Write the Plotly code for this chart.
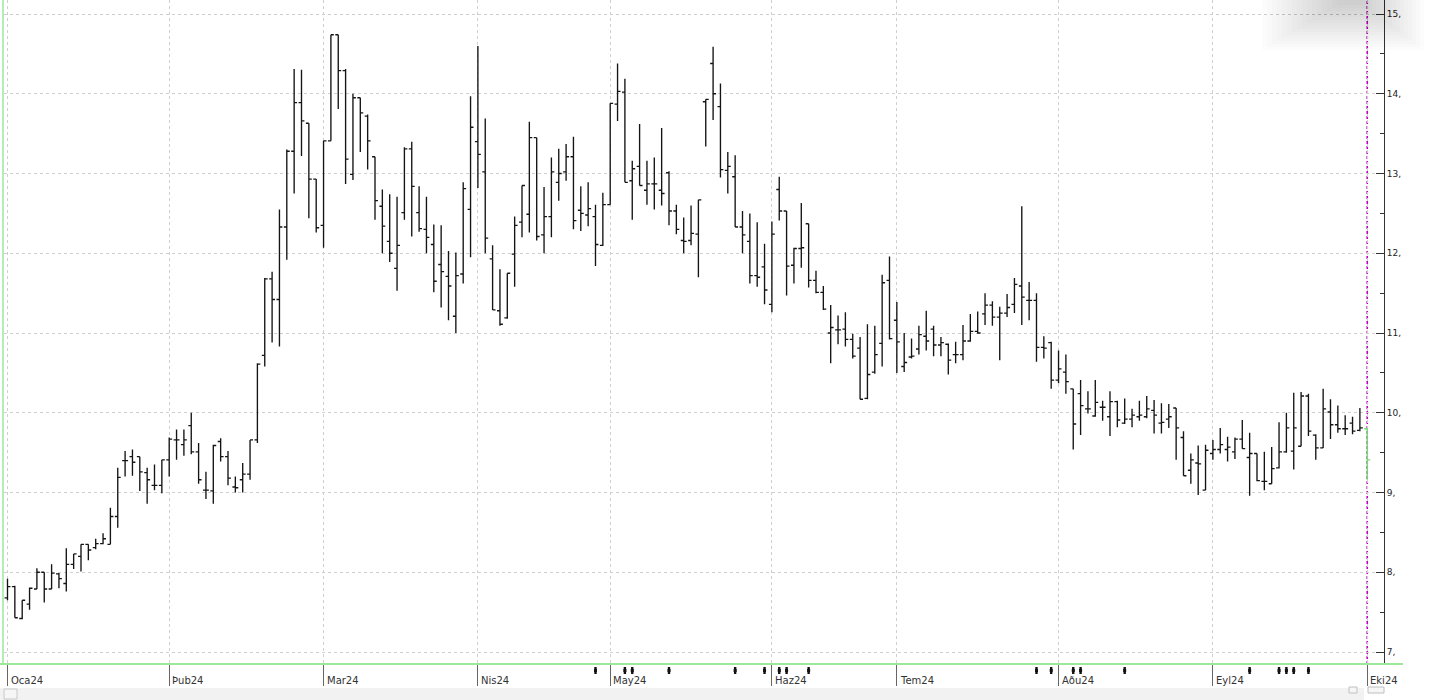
import pandas as pd
import plotly.graph_objects as go

# ---------------- data ----------------
opens = [7.68, 7.82, 7.42, 7.60, 7.79, 8.00, 7.79, 7.98, 7.86, 8.10,
         8.20, 8.35, 8.31, 8.36, 8.35, 8.70, 9.40, 9.45, 9.45, 9.25,
         9.09, 9.09, 9.41, 9.66, 9.60, 9.84, 9.51, 9.03, 9.02, 9.64,
         9.45, 9.07, 9.16, 9.23, 9.66, 10.72, 11.68, 11.42, 12.33, 13.28,
         13.89, 13.63, 12.93, 12.35, 13.41, 14.74, 14.29, 12.99, 13.95, 13.72,
         13.21, 12.59, 12.15, 11.81, 12.51, 13.31, 12.51, 12.30, 12.11, 11.86,
         11.71, 11.21, 11.74, 12.55, 13.40, 13.02, 11.93, 11.28, 11.19, 11.99,
         12.39, 12.49, 13.45, 12.23, 12.46, 12.89, 13.02, 13.21, 12.54, 12.48,
         12.46, 12.10, 12.61, 13.87, 14.02, 12.91, 13.09, 12.79, 12.87, 12.79,
         13.01, 12.53, 12.16, 12.16, 12.24, 13.90, 14.38, 13.84, 13.04, 12.96,
         12.33, 12.15, 11.72, 11.83, 11.36, 12.80, 12.53, 11.85, 12.06, 12.37,
         11.66, 11.51, 11.00, 11.04, 11.05, 10.92, 10.81, 10.18, 10.51, 10.87,
         11.66, 11.16, 10.58, 10.70, 10.80, 10.96, 11.05, 10.85, 10.86, 10.73,
         10.73, 10.90, 11.02, 11.24, 11.35, 11.20, 11.25, 11.36, 11.59, 11.41,
         11.41, 10.82, 10.88, 10.41, 10.51, 10.30, 10.24, 10.05, 9.96, 10.07,
         9.95, 10.14, 9.87, 9.92, 9.95, 9.95, 10.03, 9.87, 9.92, 10.06,
         9.69, 9.28, 9.37, 9.03, 9.49, 9.54, 9.54, 9.51, 9.67, 9.44,
         9.49, 9.14, 9.11, 9.31, 9.51, 9.52, 9.58, 10.21, 9.72, 9.56,
         10.01, 9.85, 9.80, 9.87, 9.78, 9.80]
highs = [7.92, 7.83, 7.65, 7.81, 8.05, 8.00, 8.10, 7.99, 8.30, 8.23,
         8.35, 8.35, 8.42, 8.49, 8.81, 9.31, 9.52, 9.54, 9.45, 9.31,
         9.35, 9.41, 9.69, 9.79, 9.79, 10.00, 9.62, 9.26, 9.60, 9.68,
         9.52, 9.20, 9.37, 9.66, 10.62, 11.69, 11.77, 12.55, 13.30, 14.31,
         14.30, 13.63, 12.93, 13.41, 14.74, 14.74, 14.31, 14.00, 13.95, 13.74,
         13.21, 12.80, 12.74, 12.71, 13.33, 13.40, 12.84, 12.71, 12.36, 12.35,
         12.03, 12.01, 12.89, 13.97, 14.60, 13.69, 12.10, 11.80, 11.75, 12.46,
         12.85, 13.65, 13.45, 12.83, 13.20, 13.31, 13.37, 13.46, 12.84, 12.89,
         12.61, 12.76, 13.88, 14.38, 14.19, 13.16, 13.62, 13.16, 13.20, 13.57,
         13.03, 12.61, 12.45, 12.60, 12.67, 13.93, 14.59, 14.13, 13.27, 13.23,
         12.53, 12.50, 12.39, 12.12, 12.40, 12.96, 12.53, 12.07, 12.63, 12.37,
         11.78, 11.59, 11.35, 11.22, 11.26, 10.99, 10.95, 11.11, 11.09, 11.73,
         11.96, 11.39, 11.00, 10.93, 11.09, 11.28, 11.09, 10.95, 10.87, 10.89,
         11.10, 11.24, 11.27, 11.50, 11.40, 11.33, 11.49, 11.69, 12.59, 11.64,
         11.50, 10.96, 10.89, 10.78, 10.73, 10.30, 10.41, 10.27, 10.41, 10.15,
         10.27, 10.15, 10.18, 10.05, 10.15, 10.21, 10.16, 10.12, 10.11, 10.06,
         9.77, 9.49, 9.59, 9.60, 9.66, 9.81, 9.70, 9.69, 9.91, 9.75,
         9.49, 9.51, 9.57, 9.88, 10.00, 10.25, 10.26, 10.24, 9.73, 10.30,
         10.17, 10.09, 9.97, 9.95, 10.06, 9.81]
lows = [7.65, 7.43, 7.41, 7.53, 7.79, 7.62, 7.79, 7.80, 7.76, 8.04,
        8.01, 8.15, 8.29, 8.35, 8.35, 8.56, 9.20, 9.21, 9.02, 8.86,
        9.03, 8.99, 9.20, 9.41, 9.46, 9.48, 9.11, 8.92, 8.86, 9.39,
        9.09, 9.00, 9.00, 9.16, 9.62, 10.58, 10.88, 10.83, 11.92, 12.75,
        13.22, 12.44, 12.26, 12.07, 13.41, 13.81, 12.87, 12.92, 13.27, 13.05,
        12.42, 12.00, 11.89, 11.53, 12.42, 12.21, 12.27, 12.00, 11.51, 11.32,
        11.16, 11.00, 11.62, 11.95, 12.82, 12.00, 11.29, 11.09, 11.18, 11.58,
        12.20, 12.26, 12.16, 12.00, 12.20, 12.66, 12.91, 12.30, 12.28, 12.34,
        11.84, 12.09, 12.61, 13.66, 12.89, 12.42, 12.85, 12.61, 12.55, 12.60,
        12.35, 12.24, 12.00, 12.10, 11.70, 13.34, 13.67, 12.95, 12.75, 12.33,
        12.00, 11.62, 11.58, 11.36, 11.26, 12.41, 11.47, 11.62, 11.82, 11.57,
        11.50, 11.29, 10.62, 10.86, 10.83, 10.68, 10.17, 10.17, 10.49, 10.58,
        10.92, 10.50, 10.51, 10.68, 10.73, 10.78, 10.71, 10.71, 10.48, 10.62,
        10.66, 10.89, 10.99, 11.10, 11.09, 10.66, 11.20, 11.25, 11.10, 11.16,
        10.64, 10.68, 10.30, 10.37, 10.24, 9.54, 9.72, 9.99, 9.95, 9.90,
        9.71, 9.82, 9.86, 9.82, 9.90, 9.93, 9.74, 9.74, 9.81, 9.41,
        9.21, 9.11, 8.97, 9.03, 9.41, 9.49, 9.39, 9.42, 9.55, 8.96,
        9.14, 9.03, 9.11, 9.30, 9.50, 9.29, 9.58, 9.71, 9.41, 9.56,
        9.67, 9.75, 9.72, 9.73, 9.77, 9.16]
closes = [7.82, 7.43, 7.65, 7.80, 8.00, 7.79, 7.99, 7.92, 8.10, 8.23,
          8.35, 8.28, 8.36, 8.42, 8.70, 9.19, 9.40, 9.38, 9.26, 9.16,
          9.09, 9.41, 9.67, 9.66, 9.66, 9.51, 9.16, 9.03, 9.59, 9.45,
          9.18, 9.06, 9.23, 9.66, 10.61, 11.68, 11.42, 12.33, 13.28, 13.89,
          13.66, 12.93, 12.32, 13.41, 14.74, 14.29, 13.18, 13.95, 13.76, 13.41,
          12.66, 12.34, 12.00, 12.10, 13.31, 12.84, 12.31, 12.20, 11.65, 11.77,
          11.59, 11.72, 12.81, 13.58, 13.24, 12.19, 11.29, 11.11, 11.75, 12.35,
          12.85, 13.45, 12.21, 12.46, 13.02, 13.00, 13.21, 12.41, 12.50, 12.56,
          12.11, 12.61, 13.88, 14.03, 12.89, 13.06, 12.85, 12.87, 12.87, 12.75,
          12.53, 12.30, 12.15, 12.25, 12.67, 13.93, 14.00, 13.05, 13.09, 12.33,
          12.23, 11.72, 11.70, 11.54, 12.24, 12.53, 11.84, 12.06, 12.07, 11.66,
          11.51, 11.30, 11.07, 11.04, 10.92, 10.71, 10.17, 10.48, 10.73, 11.63,
          10.93, 10.89, 10.63, 10.71, 10.98, 10.90, 10.85, 10.88, 10.66, 10.73,
          10.90, 11.02, 11.00, 11.35, 11.20, 11.25, 11.32, 11.61, 11.45, 11.41,
          10.82, 10.81, 10.41, 10.55, 10.39, 9.86, 10.09, 10.05, 10.13, 10.07,
          10.14, 9.91, 9.92, 9.97, 9.97, 10.05, 9.97, 9.88, 9.95, 9.81,
          9.21, 9.41, 9.36, 9.53, 9.54, 9.60, 9.57, 9.67, 9.55, 9.49,
          9.15, 9.14, 9.30, 9.51, 9.81, 9.81, 10.21, 9.77, 9.56, 10.05,
          9.85, 9.80, 9.80, 9.77, 9.81, 9.41]

holidays = ["2024-01-01", "2024-04-10", "2024-04-11", "2024-04-12", "2024-04-23",
            "2024-05-01", "2024-06-17", "2024-06-18", "2024-06-19", "2024-07-15",
            "2024-08-30"]
dates = [d.strftime("%Y-%m-%d") for d in pd.bdate_range("2024-01-01", "2024-10-01")
         if d.strftime("%Y-%m-%d") not in holidays]

month_labels = ["Oca24", "Þub24", "Mar24", "Nis24", "May24", "Haz24",
                "Tem24", "Aðu24", "Eyl24", "Eki24"]
month_idx = [i for i, d in enumerate(dates) if i == 0 or d[:7] != dates[i - 1][:7]]

event_idx = [80, 84, 85, 90, 99, 103, 105, 106, 109, 140, 142, 145, 146, 152,
             169, 173, 174, 175, 177]

y_tickvals = [7, 8, 9, 10, 11, 12, 13, 14, 15]
y_ticktext = ["7,", "8,", "9,", "10,", "11,", "12,", "13,", "14,", "15,"]
y_minor = [7.5, 8.5, 9.5, 10.5, 11.5, 12.5, 13.5, 14.5]

# ---------------- layout geometry ----------------
W, H = 1432, 700
ML, MR, MT, MB = 4, 48, 0, 0
PW, PH = W - ML - MR, H - MT - MB
PLOT_BOTTOM = 664          # pixel row of the chart's bottom edge
STRIP_BOTTOM = 676         # event-marker strip below the chart
Y_RANGE = [6.85, 15.176]
X_RANGE = [-0.476, 187.28]


def px_x(px):
    return (px - ML) / PW


def px_y(py):
    return (H - MB - py) / PH


n = len(dates)
fig = go.Figure()

fig.add_trace(go.Ohlc(
    x=dates[:-1], open=opens[:-1], high=highs[:-1], low=lows[:-1], close=closes[:-1],
    increasing=dict(line=dict(color="#141414", width=1.35)),
    decreasing=dict(line=dict(color="#141414", width=1.35)),
    tickwidth=0.4, hoverinfo="skip", showlegend=False,
))
fig.add_trace(go.Ohlc(
    x=dates[-1:], open=opens[-1:], high=highs[-1:], low=lows[-1:], close=closes[-1:],
    increasing=dict(line=dict(color="#6fdc6f", width=1.4)),
    decreasing=dict(line=dict(color="#6fdc6f", width=1.4)),
    tickwidth=0.4, hoverinfo="skip", showlegend=False,
))

# event markers in a thin strip under the chart
fig.add_trace(go.Scatter(
    x=[dates[i] for i in event_idx], y=[0.5] * len(event_idx),
    xaxis="x2", yaxis="y2",
    mode="markers", hoverinfo="skip", showlegend=False,
    marker=dict(symbol="square", size=3, color="#111111",
                line=dict(width=0)),
))
fig.add_trace(go.Scatter(
    x=[dates[i] for i in event_idx], y=[0.5] * len(event_idx),
    xaxis="x2", yaxis="y2",
    mode="markers", hoverinfo="skip", showlegend=False,
    marker=dict(symbol="line-ns", size=5, color="#111111",
                line=dict(color="#111111", width=2.4)),
))

shapes = []
shapes.append(dict(type="line", xref="x", yref="paper", x0=n - 1, x1=n - 1,
                   y0=px_y(PLOT_BOTTOM), y1=1,
                   line=dict(color="#c400c4", width=1.6, dash="3px,2px"), layer="below"))
shapes.append(dict(type="line", xref="paper", yref="paper", x0=px_x(3), x1=px_x(3),
                   y0=px_y(PLOT_BOTTOM), y1=1, line=dict(color="#9be89b", width=1.5)))
shapes.append(dict(type="line", xref="paper", yref="paper", x0=px_x(0), x1=px_x(1403),
                   y0=px_y(PLOT_BOTTOM), y1=px_y(PLOT_BOTTOM),
                   line=dict(color="#9be89b", width=2)))
shapes.append(dict(type="rect", xref="paper", yref="paper", x0=px_x(0), x1=px_x(1364),
                   y0=px_y(700), y1=px_y(688), fillcolor="#f2f2f2", line=dict(width=0)))
shapes.append(dict(type="rect", xref="paper", yref="paper", x0=px_x(4), x1=px_x(17),
                   y0=px_y(699), y1=px_y(689), fillcolor="#f6f6f6",
                   line=dict(color="#c8c8c8", width=1)))
shapes.append(dict(type="rect", xref="paper", yref="paper", x0=px_x(1349), x1=px_x(1357),
                   y0=px_y(693), y1=px_y(687), fillcolor="#f6f6f6",
                   line=dict(color="#c0c0c0", width=1)))
shapes.append(dict(type="rect", xref="paper", yref="paper", x0=px_x(1368), x1=px_x(1384),
                   y0=px_y(693), y1=px_y(687), fillcolor="#f6f6f6",
                   line=dict(color="#c0c0c0", width=1)))
# soft shadow in the top-right corner
for k in range(16):
    shapes.append(dict(type="rect", xref="paper", yref="paper",
                       x0=px_x(1262 + 5 * k), x1=px_x(1424 - 4 * k),
                       y0=px_y(50 - 3 * k), y1=px_y(-2),
                       fillcolor="rgba(0,0,0,0.012)", line=dict(width=0), layer="above"))

annotations = []
for i, lab in zip(month_idx, month_labels):
    annotations.append(dict(x=i, xref="x", y=px_y(680), yref="paper", text=lab,
                            showarrow=False, xanchor="left", yanchor="middle", xshift=1,
                            font=dict(family="DejaVu Sans", size=10, color="#333333")))

fig.update_layout(
    width=W, height=H,
    margin=dict(l=ML, r=MR, t=MT, b=MB, pad=0),
    paper_bgcolor="white", plot_bgcolor="white",
    showlegend=False,
    shapes=shapes, annotations=annotations,
    xaxis=dict(
        type="category", range=X_RANGE, rangeslider=dict(visible=False),
        anchor="y", domain=[0, 1],
        tickmode="array", tickvals=[dates[i] for i in month_idx],
        showticklabels=False, ticks="outside", ticklen=21, tickwidth=1, tickcolor="#666666",
        showgrid=True, gridcolor="#cfcfcf", gridwidth=1, griddash="3px,3px",
        showline=False, zeroline=False, fixedrange=True,
    ),
    yaxis=dict(
        side="right", range=Y_RANGE, domain=[px_y(PLOT_BOTTOM), 1], anchor="x",
        tickmode="array", tickvals=y_tickvals, ticktext=y_ticktext,
        ticks="inside", ticklen=8, tickwidth=1, tickcolor="#333333",
        showline=True, linecolor="#333333", linewidth=1,
        showgrid=True, gridcolor="#cfcfcf", gridwidth=1, griddash="3px,3px",
        zeroline=False, fixedrange=True,
        tickfont=dict(family="DejaVu Sans", size=9, color="#222222"),
        minor=dict(tickmode="array", tickvals=y_minor, ticks="inside", ticklen=4,
                   tickwidth=1, tickcolor="#333333", showgrid=False),
    ),
    xaxis2=dict(
        type="category", range=X_RANGE, matches="x", anchor="y2", domain=[0, 1],
        visible=False, showgrid=False, fixedrange=True,
    ),
    yaxis2=dict(
        range=[0, 1], domain=[px_y(STRIP_BOTTOM), px_y(PLOT_BOTTOM + 1)], anchor="x2",
        visible=False, showgrid=False, fixedrange=True,
    ),
)

fig.write_html("out.html", config={"displayModeBar": False},
               post_script="document.body.style.margin='0';document.body.style.overflow='hidden';")
